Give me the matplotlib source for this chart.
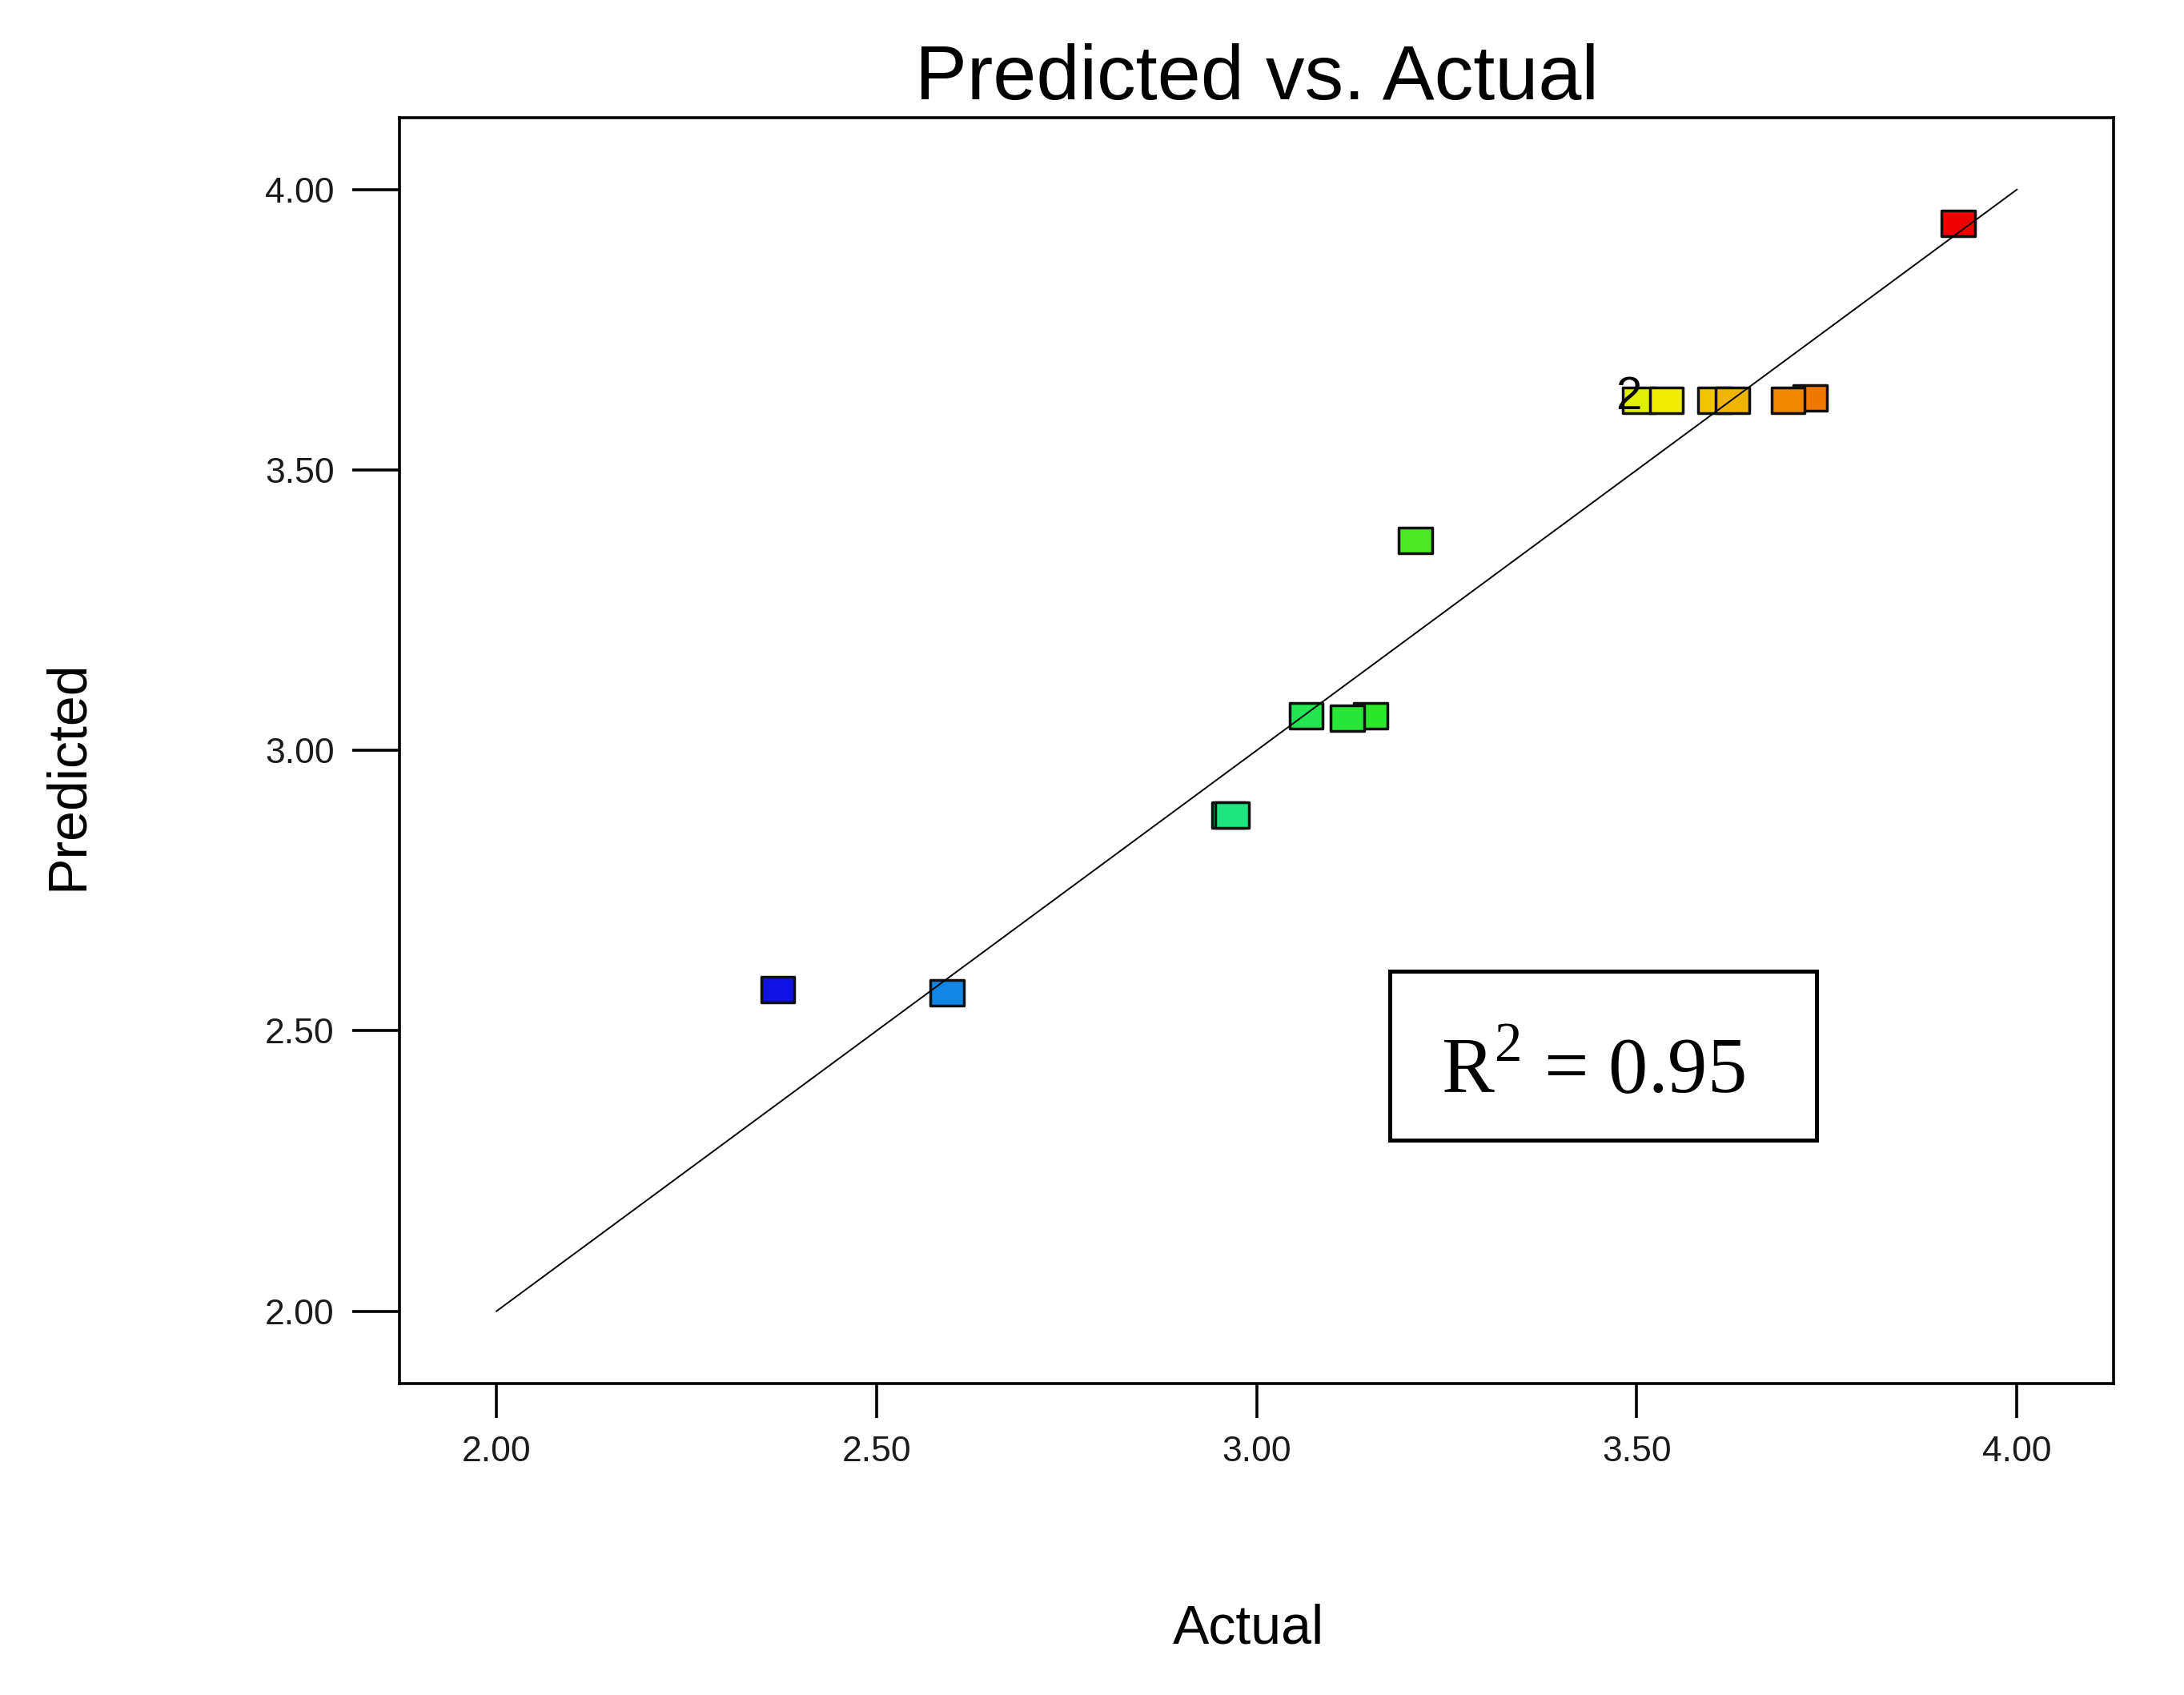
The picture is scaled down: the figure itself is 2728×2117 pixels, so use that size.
import matplotlib
matplotlib.use("Agg")
import matplotlib.pyplot as plt
from matplotlib.colors import LinearSegmentedColormap, Normalize
from matplotlib.path import Path
from matplotlib.patches import Rectangle

plt.rcParams["font.family"] = ["Liberation Sans", "DejaVu Sans"]
plt.rcParams["mathtext.fontset"] = "custom"
plt.rcParams["mathtext.rm"] = "Liberation Serif"

# ---- data ----
actual = [2.370, 2.593, 2.963, 2.968, 3.065, 3.150, 3.119, 3.2085,
          3.503, 3.539, 3.603, 3.626, 3.728, 3.699, 3.923]
predicted = [2.573, 2.568, 2.885, 2.885, 3.062, 3.062, 3.057, 3.374,
             3.624, 3.624, 3.624, 3.624, 3.628, 3.624, 3.939]
replicates = [1, 1, 1, 1, 1, 1, 1, 1, 2, 1, 1, 1, 1, 1, 1]
fit_line = [2.0, 4.0]
tick_values = [2.00, 2.50, 3.00, 3.50, 4.00]
tick_labels = ["2.00", "2.50", "3.00", "3.50", "4.00"]
title = "Predicted vs. Actual"
x_label = "Actual"
y_label = "Predicted"
r2_text = "R$^{2}$ = 0.95"

fig = plt.figure(figsize=(27.28, 21.17), dpi=100)
ax = fig.add_axes([0.1831, 0.1839, 0.7846, 0.7468])

# colour by actual value: blue -> cyan -> green -> yellow -> red
cmap = LinearSegmentedColormap.from_list(
    "de", [(0.0, "#1212E4"), (0.25, "#10E0E6"), (0.5, "#2AE62A"),
           (0.75, "#F0F000"), (1.0, "#F00000")])
norm = Normalize(min(actual), max(actual))

rect = Path([(-0.5, -0.385), (0.5, -0.385), (0.5, 0.385), (-0.5, 0.385), (-0.5, -0.385)],
            [Path.MOVETO, Path.LINETO, Path.LINETO, Path.LINETO, Path.CLOSEPOLY])

ax.scatter(actual, predicted, s=30 ** 2, marker=rect, c=[cmap(norm(v)) for v in actual],
           edgecolors="#101010", linewidths=2.5, zorder=3)

ax.plot(fit_line, fit_line, color="black", lw=1.4, zorder=4)

for xa, yp, n in zip(actual, predicted, replicates):
    if n > 1:
        ax.annotate(str(n), (xa, yp), xytext=(-9.5, 3.0), textcoords="offset points",
                    ha="center", va="center", fontsize=42, color="black", zorder=5)

ax.set_xlim(1.873, 4.127)
ax.set_ylim(1.8715, 4.1285)
ax.set_xticks(tick_values)
ax.set_xticklabels(tick_labels)
ax.set_yticks(tick_values)
ax.set_yticklabels(tick_labels)

for sp in ax.spines.values():
    sp.set_linewidth(2.6)
    sp.set_color("black")

ax.tick_params(axis="x", direction="out", length=31, width=2.6, pad=16,
               labelsize=32, labelcolor="#1a1a1a")
ax.tick_params(axis="y", direction="out", length=42.5, width=2.6, pad=16.5,
               labelsize=32, labelcolor="#1a1a1a")

ax.set_title(title, fontsize=70, pad=16.5, color="black")

fig.text(0.5718, 0.0307, x_label, ha="center", va="baseline", fontsize=49, color="black")
fig.text(0.0312, 0.5428, y_label, ha="center", va="center", rotation=90,
         fontsize=49, color="black")

# R^2 box
ax.add_patch(Rectangle((0.5777, 0.1921), 0.8267 - 0.5777, 0.3256 - 0.1921,
                       transform=ax.transAxes, fill=False, lw=3.6, ec="black", zorder=6))
ax.text(0.6075, 0.230, r2_text, transform=ax.transAxes, ha="left", va="baseline",
        fontsize=71, family="Liberation Serif", color="black", zorder=7)

fig.savefig("out.png", dpi=100)
